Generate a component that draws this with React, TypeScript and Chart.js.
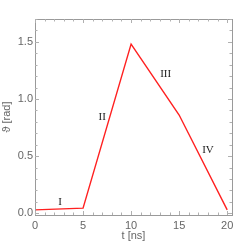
import React, { useEffect, useRef } from "react";
import { Chart, registerables } from "chart.js";

Chart.register(...registerables);

const timeNs = [0, 5, 10, 15, 20];
const theta = [0.03, 0.045, 1.48, 0.86, 0.03];
const xTicks = [0, 5, 10, 15, 20];
const yTicks = [0, 0.5, 1.0, 1.5];
const yTickLabels = ["0.0", "0.5", "1.0", "1.5"];
const phaseLabels = ["I", "II", "III", "IV"];
const phaseX = [2.6, 7.0, 13.6, 18.0];
const phaseY = [0.1, 0.84, 1.22, 0.55];

const framePlugin = {
  id: "frameTicks",
  afterDraw(chart: any) {
    const { ctx, chartArea: a, scales } = chart;
    const xs = scales.x;
    const ys = scales.y;
    ctx.save();
    ctx.strokeStyle = "#9a9a9a";
    ctx.lineWidth = 1;
    ctx.strokeRect(Math.round(a.left) + 0.5, Math.round(a.top) + 0.5, Math.round(a.right - a.left), Math.round(a.bottom - a.top));
    ctx.strokeStyle = "#b0b0b0";
    for (let v = 0; v <= 20; v += 1) {
      const px = Math.round(xs.getPixelForValue(v)) + 0.5;
      const len = v % 5 === 0 ? 4 : 2.5;
      ctx.beginPath();
      ctx.moveTo(px, a.bottom);
      ctx.lineTo(px, a.bottom - len);
      ctx.moveTo(px, a.top);
      ctx.lineTo(px, a.top + len);
      ctx.stroke();
    }
    for (let i = 0; i <= 17; i++) {
      const v = i / 10;
      const py = Math.round(ys.getPixelForValue(v)) + 0.5;
      const len = i % 5 === 0 ? 4 : 2.5;
      ctx.beginPath();
      ctx.moveTo(a.left, py);
      ctx.lineTo(a.left + len, py);
      ctx.moveTo(a.right, py);
      ctx.lineTo(a.right - len, py);
      ctx.stroke();
    }
    ctx.fillStyle = "#222";
    ctx.font = "11px 'Liberation Serif', serif";
    ctx.textAlign = "center";
    ctx.textBaseline = "middle";
    phaseLabels.forEach((t, i) => {
      ctx.fillText(t, xs.getPixelForValue(phaseX[i]), ys.getPixelForValue(phaseY[i]));
    });
    ctx.restore();
  },
};

export default function App() {
  const ref = useRef<HTMLCanvasElement>(null);
  useEffect(() => {
    document.body.style.margin = "0";
    const chart = new Chart(ref.current!, {
      type: "line",
      data: {
        datasets: [
          {
            data: timeNs.map((t, i) => ({ x: t, y: theta[i] })),
            borderColor: "#ff2020",
            borderWidth: 1.4,
            pointRadius: 0,
            tension: 0,
            fill: false,
          },
        ],
      },
      options: {
        animation: false,
        responsive: false,
        layout: { padding: { top: 19, right: 20, left: 0, bottom: 0 } },
        plugins: { legend: { display: false }, tooltip: { enabled: false } },
        scales: {
          x: {
            type: "linear",
            min: 0,
            max: 20.5,
            grid: { display: false, drawTicks: false },
            border: { display: false },
            afterBuildTicks: (s: any) => {
              s.ticks = xTicks.map((v) => ({ value: v }));
            },
            afterFit: (s: any) => {
              s.height = 34;
            },
            ticks: {
              color: "#666",
              font: { family: "'Liberation Sans', Arial, sans-serif", size: 11 },
              padding: 4,
              maxRotation: 0,
              callback: (v: any) => String(v),
            },
            title: {
              display: true,
              text: "t [ns]",
              color: "#666",
              font: { family: "'Liberation Sans', Arial, sans-serif", size: 11 },
              padding: { top: 2, bottom: 6 },
            },
          },
          y: {
            type: "linear",
            min: -0.015,
            max: 1.7,
            grid: { display: false, drawTicks: false },
            border: { display: false },
            afterBuildTicks: (s: any) => {
              s.ticks = yTicks.map((v) => ({ value: v }));
            },
            afterFit: (s: any) => {
              s.width = 35;
            },
            ticks: {
              color: "#666",
              font: { family: "'Liberation Sans', Arial, sans-serif", size: 11 },
              padding: 2,
              callback: (v: any) => {
                const i = yTicks.indexOf(Number(v));
                return i >= 0 ? yTickLabels[i] : "";
              },
            },
            title: {
              display: true,
              text: "ϑ [rad]",
              color: "#666",
              font: { family: "'Liberation Sans', Arial, sans-serif", size: 11 },
              padding: { top: 0, bottom: 0 },
            },
          },
        },
      },
      plugins: [framePlugin],
    });
    return () => chart.destroy();
  }, []);
  return (
    <div style={{ width: 252, height: 249, background: "#fff" }}>
      <canvas ref={ref} width={252} height={249} style={{ width: 252, height: 249, display: "block" }} />
    </div>
  );
}
